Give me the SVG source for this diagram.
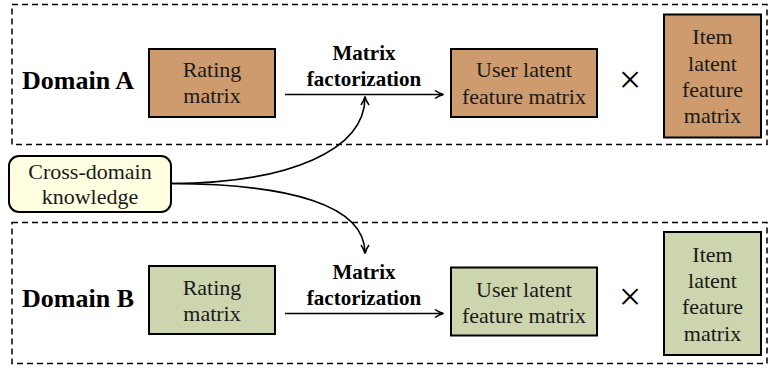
<svg xmlns="http://www.w3.org/2000/svg" width="769" height="368" viewBox="0 0 769 368">
<defs>
<style>
.dom{fill:none;stroke:#000;stroke-width:1.5;stroke-dasharray:6,4}
.a{fill:#CD9B6D;stroke:#000;stroke-width:2}
.b{fill:#CDD5AE;stroke:#000;stroke-width:2}
.t{font-family:'Liberation Serif','Times New Roman',Times,serif;font-size:22px;fill:#1a1a1a;text-anchor:middle}
.bold{font-family:'Liberation Serif','Times New Roman',Times,serif;font-weight:bold;fill:#000;text-anchor:middle}
.x{font-family:'Liberation Serif','Times New Roman',serif;font-size:40px;fill:#000;text-anchor:middle}
.c{fill:none;stroke:#000;stroke-width:1.6}
</style>
<marker id="arr" viewBox="0 0 10 10" refX="9" refY="5" markerWidth="10" markerHeight="10" markerUnits="userSpaceOnUse" orient="auto">
<path d="M1,1 Q5,4 9.5,5 Q5,6 1,9" fill="none" stroke="#000" stroke-width="1.5"/>
</marker>
</defs>
<rect class="dom" x="12" y="4.5" width="755" height="140"/>
<rect class="dom" x="12" y="222.5" width="755" height="141"/>

<g id="domainA">
<text class="bold" x="78" y="89.3" font-size="26">Domain A</text>
</g>
<g id="ratingA">
<rect class="a" x="149" y="49" width="126" height="68"/>
<text class="t" x="212" y="77.3">Rating</text>
<text class="t" x="212" y="103.3">matrix</text>
</g>
<g id="mfA">
<text class="bold" x="364" y="60" font-size="21">Matrix</text>
<text class="bold" x="364" y="86" font-size="21">factorization</text>
</g>
<g id="userA">
<rect class="a" x="451" y="49" width="146" height="68"/>
<text class="t" x="524" y="77.3">User latent</text>
<text class="t" x="524" y="104">feature matrix</text>
</g>
<g id="timesA"><text class="x" x="630" y="93">×</text></g>
<g id="itemA">
<rect class="a" x="664" y="14.5" width="97" height="123"/>
<text class="t" x="712.5" y="44">Item</text>
<text class="t" x="712.5" y="70.7">latent</text>
<text class="t" x="712.5" y="96.7">feature</text>
<text class="t" x="712.5" y="123.3">matrix</text>
</g>

<g id="cross">
<rect x="9" y="156" width="162" height="56" rx="10" ry="10" fill="#FFFEE0" stroke="#000" stroke-width="2"/>
<text class="t" x="90" y="179.3">Cross-domain</text>
<text class="t" x="90" y="204">knowledge</text>
</g>

<g id="domainB">
<text class="bold" x="78" y="306.7" font-size="26">Domain B</text>
</g>
<g id="ratingB">
<rect class="b" x="149" y="266" width="126" height="68"/>
<text class="t" x="212" y="295">Rating</text>
<text class="t" x="212" y="320.7">matrix</text>
</g>
<g id="mfB">
<text class="bold" x="364" y="279.3" font-size="21">Matrix</text>
<text class="bold" x="364" y="305" font-size="21">factorization</text>
</g>
<g id="userB">
<rect class="b" x="451" y="267.5" width="146" height="68"/>
<text class="t" x="524" y="296.7">User latent</text>
<text class="t" x="524" y="322.7">feature matrix</text>
</g>
<g id="timesB"><text class="x" x="630" y="310">×</text></g>
<g id="itemB">
<rect class="b" x="664" y="232" width="97" height="123"/>
<text class="t" x="712.5" y="261.7">Item</text>
<text class="t" x="712.5" y="288.3">latent</text>
<text class="t" x="712.5" y="314.3">feature</text>
<text class="t" x="712.5" y="340.7">matrix</text>
</g>

<g id="connectors">
<path class="c" d="M285,94.5 H443" marker-end="url(#arr)"/>
<path class="c" d="M285,313.5 H443" marker-end="url(#arr)"/>
<path class="c" d="M171,183.5 C290,183 365,150 365,97" marker-end="url(#arr)"/>
<path class="c" d="M171,183.5 C290,184 365,205 365,253" marker-end="url(#arr)"/>
</g>
</svg>
